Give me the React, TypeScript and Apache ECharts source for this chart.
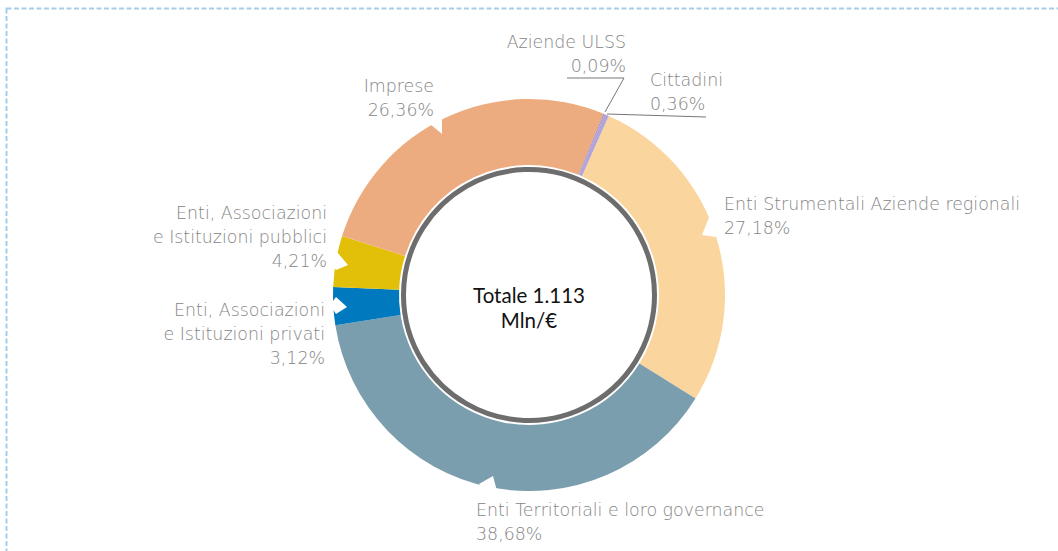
import React, { useEffect, useRef } from "react";
import * as echarts from "echarts";

// ---- data ----
const categories = [
  "Enti Strumentali Aziende regionali",
  "Enti Territoriali e loro governance",
  "Enti, Associazioni\ne Istituzioni privati",
  "Enti, Associazioni\ne Istituzioni pubblici",
  "Imprese",
  "Aziende ULSS",
  "Cittadini",
];
const shares = [27.18, 38.68, 3.12, 4.21, 26.36, 0.09, 0.36];
const centerLines = ["Totale 1.113", "Mln/€"];

// ---- styling / layout (not data) ----
const sliceColors = ["#fbd59e", "#7a9eae", "#0079bf", "#e2c00a", "#ecac7f", "#9a8cc4", "#b4a3d8"];
const CX = 529;
const CY = 295;
const labelPos: { x: number; y: number; align: "left" | "right" }[] = [
  { x: 724, y: 192, align: "left" },
  { x: 476, y: 498, align: "left" },
  { x: 325, y: 298, align: "right" },
  { x: 327, y: 201, align: "right" },
  { x: 434, y: 74, align: "right" },
  { x: 626, y: 30, align: "right" },
  { x: 650, y: 68, align: "left" },
];
const notches: number[][][] = [
  [[430, 124], [442, 134], [442, 117], [436, 114]],
  [[337, 252], [348, 265], [336, 270], [330, 262]],
  [[336, 297], [347, 307], [336, 314], [330, 305]],
  [[479, 484], [493, 476], [497, 491], [488, 494]],
  [[710, 215], [702, 235], [716, 237], [721, 225]],
];
const leaderLines: number[][][] = [
  [[605, 112], [624, 78], [567, 78]],
  [[607, 114], [706, 117]],
];

const fmtPct = (v: number) => v.toFixed(2).replace(".", ",") + "%";
const LABEL_COLOR = "#858585";
const labelFont = "'DejaVu Sans', Lato, sans-serif";
const centerFont = "Lato, 'Noto Sans', sans-serif";

export default function App() {
  const ref = useRef<HTMLDivElement>(null);
  useEffect(() => {
    if (!ref.current) return;
    const chart = echarts.init(ref.current, undefined, { renderer: "svg" });
    chart.setOption({
      animation: false,
      backgroundColor: "#ffffff",
      series: [
        {
          type: "pie",
          center: [CX, CY],
          radius: [130, 196],
          startAngle: 66,
          clockwise: true,
          avoidLabelOverlap: false,
          silent: true,
          itemStyle: { borderWidth: 0 },
          label: {
            show: true,
            position: "outside",
            color: LABEL_COLOR,
            fontFamily: labelFont,
            fontWeight: 200,
            fontSize: 17.4,
            lineHeight: 24,
            formatter: (p: any) => `${p.name}\n${fmtPct(p.value)}`,
          },
          labelLine: { show: false },
          labelLayout: (params: any) => {
            const p = labelPos[params.dataIndex];
            return { x: p.x, y: p.y, align: p.align, verticalAlign: "top" };
          },
          data: categories.map((name, i) => ({
            name,
            value: shares[i],
            itemStyle: { color: sliceColors[i] },
            label: { color: LABEL_COLOR, textBorderWidth: 0 },
          })),
          z: 2,
        },
      ],
      graphic: [
        {
          type: "rect",
          shape: { x: 6.5, y: 8.5, width: 1200, height: 700 },
          style: { fill: "none", stroke: "#a5cdea", lineWidth: 2, lineDash: [5, 2.5] },
          z: 1,
        },
        {
          type: "circle",
          shape: { cx: CX, cy: CY, r: 125.5 },
          style: { fill: "#ffffff", stroke: "#6d6d6d", lineWidth: 5 },
          z: 3,
        },
        ...notches.map((pts) => ({
          type: "polygon",
          shape: { points: pts },
          style: { fill: "#ffffff" },
          z: 3,
        })),
        ...leaderLines.map((pts) => ({
          type: "polyline",
          shape: { points: pts },
          style: { stroke: "#777777", lineWidth: 1, fill: "none" },
          z: 4,
        })),
        {
          type: "text",
          x: CX,
          y: 307,
          style: {
            text: centerLines.join("\n"),
            fill: "#111111",
            font: `400 20.5px ${centerFont}`,
            lineHeight: 25,
            textAlign: "center",
            textVerticalAlign: "middle",
          },
          z: 5,
        },
      ],
    });
    return () => chart.dispose();
  }, []);
  return (
    <div
      ref={ref}
      style={{ position: "fixed", left: 0, top: 0, width: 1058, height: 551 }}
    />
  );
}
